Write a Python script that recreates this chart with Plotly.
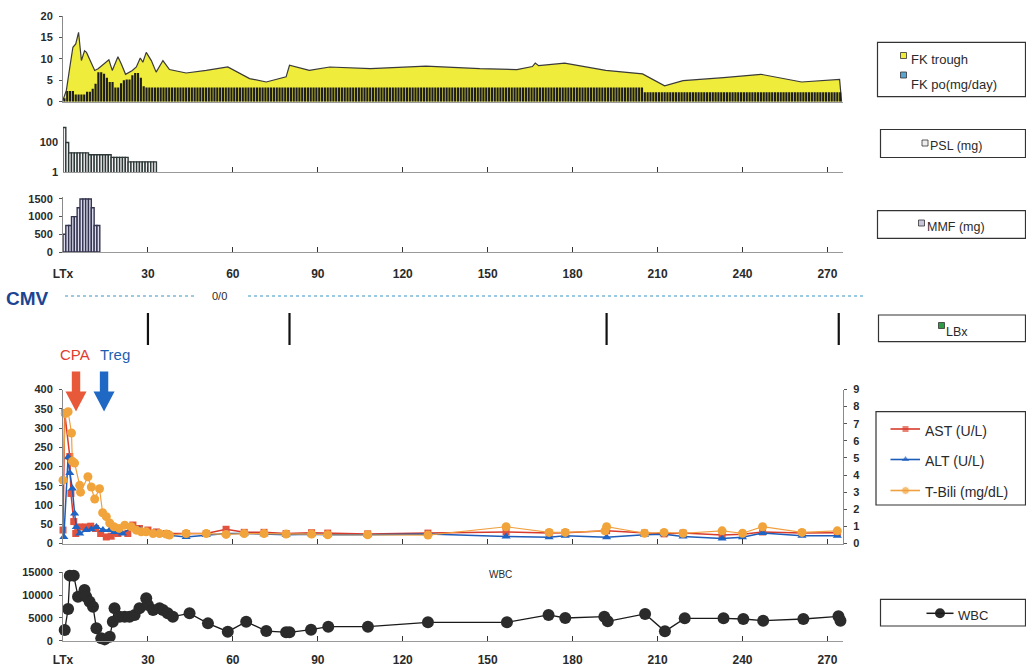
import plotly.graph_objects as go

W, H = 1026, 668
def px(x): return x / W
def py(y): return 1 - y / H

# ---------------- DATA ----------------
day_ticks = [0, 30, 60, 90, 120, 150, 180, 210, 240, 270]
day_tick_labels = ["LTx", "30", "60", "90", "120", "150", "180", "210", "240", "270"]

# FK trough (ng/mL)
fk_trough_days = [0, 1.2, 2.4, 3.5, 4.5, 5.5, 6.5, 7.6, 8.3, 9.4, 11.2, 12.4, 14, 16.2, 17.4, 19.4,
                  20.6, 22.1, 24.5, 25.9, 27.3, 28.2, 29.4, 31.2, 32.9, 35.3, 37.6, 43.5, 50.6, 58.2,
                  65.9, 71.8, 78.8, 80, 87, 94.2, 108.6, 128.2, 147.2, 160.3, 165.8, 166.8, 168,
                  177.2, 191.7, 204.7, 212.5, 219, 233.3, 246.5, 260.9, 274.3, 275]
fk_trough = [0.4, 2.7, 8, 12.7, 13.5, 16.2, 9.6, 11.9, 11.5, 10, 7.3, 7.7, 8.5, 9.8, 7.3, 10.5,
             8.8, 6.4, 7.3, 8.1, 10.2, 9.2, 11.5, 9.6, 6.9, 9.6, 7.5, 6.7, 7.3, 8.1,
             5.4, 4.6, 5.8, 8.5, 7.3, 8.1, 7.7, 8.3, 7.7, 7.5, 8.2, 9.0, 8.4,
             9.0, 7.3, 6.5, 3.7, 4.9, 5.6, 6.4, 4.6, 5.2, 0]

# FK po (mg/day): daily doses for the first 30 days, then constant-dose periods (start, end, dose)
fk_po_first_days = [0.8, 2.5, 2.5, 2.5, 1.7, 1.7, 1.7, 1.7, 2.3, 2.3, 3.0, 4.2, 6.9, 6.9, 6.5,
                    5.6, 4.6, 4.6, 3.3, 3.3, 4.3, 5.0, 5.2, 5.2, 6.2, 6.7, 6.7, 5.6, 3.6, 3.3]
fk_po_periods = [(30, 204, 3.3), (205, 274, 2.2)]

# PSL (mg), day 0..32
psl_days = list(range(0, 33))
psl = [1000, 100, 20, 20, 20, 20, 20, 20, 20, 15, 15, 15, 15, 15, 15, 15, 15,
       10, 10, 10, 10, 10, 10, 5, 5, 5, 5, 5, 5, 5, 5, 5, 5]

# MMF (mg), day 0..12
mmf_days = list(range(0, 13))
mmf = [500, 750, 750, 1000, 1000, 1250, 1500, 1500, 1500, 1500, 1250, 750, 750]

# Liver biopsy days
lbx_days = [30, 80, 192, 274]

# AST (U/L)
ast_days = [0, 0.6, 2.4, 2.8, 3.8, 4.5, 5.9, 8, 9.8, 11.5, 13.3, 15.3, 17, 19.4, 22.9,
            24.7, 27, 30, 33, 36.5, 43.5, 50.6, 57.6, 64, 71, 78.8, 87.8, 93.5, 107.6, 128.9,
            156.5, 171.7, 177.4, 192, 205.4, 212.3, 219, 232.8, 240, 247.1, 261, 273.5]
ast = [35, 340, 226, 130, 57, 26, 43, 43, 45, 39, 26, 17, 19, 26, 26,
       48, 39, 35, 30, 26, 26, 26, 37, 29, 29, 26, 28, 27, 25, 27,
       30, 27, 28, 33, 27, 25, 27, 22, 24, 30, 27, 28]

# ALT (U/L)
alt_days = [0.3, 1.8, 2.4, 3.3, 4.1, 4.7, 5.9, 8.2, 10, 11.8, 14.1, 16.5, 18.2, 21, 24.7,
            27, 30, 33, 36.5, 43.5, 50.6, 57.6, 64, 71, 78.8, 87.8, 93.5, 107.6, 128.9, 156.5,
            171.7, 177.4, 192, 205.4, 212.3, 219, 232.8, 240, 247.1, 261, 273.5]
alt = [17, 224, 183, 143, 78, 43, 26, 35, 37, 43, 35, 35, 30, 26, 43,
       37, 30, 26, 22, 17, 22, 26, 26, 24, 23, 24, 23, 23, 25, 18,
       16, 20, 16, 23, 24, 18, 13, 16, 27, 20, 20]

# T-Bili (mg/dL)
bili_days = [0, 0.8, 1.8, 3, 3.3, 4.1, 5.9, 6.2, 8.8, 10, 11.2, 12.9, 14, 15.3, 16.5,
             18, 19.8, 21.8, 24.1, 25.9, 27.6, 29.4, 31.8, 34.1, 36.5, 37.6, 43.5, 50.6, 57.6, 64,
             71, 78.8, 87.8, 93.5, 107.6, 128.9, 156.5, 171.7, 177.4, 191.4, 192, 205.4, 212.3, 219,
             232.8, 240, 247.1, 261, 273.5]
bili = [3.7, 7.6, 7.7, 6.46, 4.8, 4.7, 3.4, 3.0, 3.9, 3.3, 2.6, 3.2, 1.8, 1.57, 1.2,
        0.98, 0.88, 1.07, 0.98, 0.78, 0.68, 0.68, 0.58, 0.58, 0.55, 0.49, 0.58, 0.58, 0.53, 0.58,
        0.58, 0.55, 0.55, 0.51, 0.51, 0.49, 0.98, 0.65, 0.65, 0.74, 0.98, 0.6, 0.65, 0.6,
        0.74, 0.6, 0.98, 0.65, 0.74]

# WBC (/uL)
wbc_days = [0.6, 1.8, 2.4, 3.8, 5.3, 7.6, 8.2, 9.4, 10.6, 11.8, 13.5, 14.7, 16.5, 17.6, 18.2,
            20, 21.8, 23.5, 25.3, 27, 29.4, 30, 31.8, 34.1, 35.3, 37, 38.8, 44.7, 51.2, 58.2,
            64.7, 71.8, 78.8, 80, 87.6, 93.7, 107.7, 128.9, 156.8, 171.5, 177.4, 191.2, 192.4,
            205.6, 212.6, 219.6, 233.3, 240.3, 247.3, 261.5, 273.9, 274.6]
wbc = [2340, 6950, 14270, 14270, 9660, 11130, 9660, 8560, 7470, 2710, 510, 290, 880, 4170, 7100,
       5270, 5270, 5270, 5640, 7100, 9300, 7830, 6730, 7100, 6730, 6000, 5270, 6000, 3800, 1980,
       4170, 2120, 1830, 1830, 2420, 3070, 3070, 4030, 4030, 5640, 4980, 5270, 4250,
       5860, 2050, 4900, 4900, 4760, 4390, 4760, 5340, 4390]

cpa_day = 4.6
treg_day = 14.5

# expand FK po dose periods into daily bars
fk_po_days = list(range(len(fk_po_first_days)))
fk_po = list(fk_po_first_days)
for start, end, dose in fk_po_periods:
    for d in range(start, end + 1):
        fk_po_days.append(d)
        fk_po.append(dose)

# ---------------- LAYOUT HELPERS ----------------
X0, X1 = 63, 843
XRANGE = [0, 275.5]
FONT = "Liberation Sans, Arial, sans-serif"
TXT = "#2a2a2a"

fig = go.Figure()

# FK panel: trough area on y, dose bars on an overlaying axis so they sit on top
fig.add_trace(go.Scatter(x=fk_trough_days, y=fk_trough, mode="lines", fill="tozeroy",
                         fillcolor="#efec3c", line=dict(color="#3a3a3a", width=1.2),
                         xaxis="x", yaxis="y", hoverinfo="skip", showlegend=False))
fig.add_trace(go.Bar(x=fk_po_days, y=fk_po, width=0.76, offset=0.12,
                     marker=dict(color="#1e1e1e", line=dict(width=0)),
                     xaxis="x", yaxis="y8", showlegend=False))
# PSL panel
fig.add_trace(go.Bar(x=psl_days, y=psl, width=1, offset=0,
                     marker=dict(color="#f2f2f2", line=dict(color="#2f3838", width=1.4)),
                     xaxis="x2", yaxis="y2", showlegend=False))
# MMF panel
fig.add_trace(go.Bar(x=mmf_days, y=mmf, width=1, offset=0,
                     marker=dict(color="#dcdcee", line=dict(color="#35354f", width=1.4)),
                     xaxis="x3", yaxis="y3", showlegend=False))
# Liver panel
fig.add_trace(go.Scatter(x=ast_days, y=ast, mode="lines+markers", name="AST (U/L)",
                         line=dict(color="#d83a2c", width=1.5),
                         marker=dict(symbol="square", size=7, color="#e2523c"),
                         xaxis="x4", yaxis="y4", cliponaxis=False, showlegend=False))
fig.add_trace(go.Scatter(x=alt_days, y=alt, mode="lines+markers", name="ALT (U/L)",
                         line=dict(color="#1d5cb8", width=1.5),
                         marker=dict(symbol="triangle-up", size=8, color="#1e64c4"),
                         xaxis="x4", yaxis="y4", cliponaxis=False, showlegend=False))
fig.add_trace(go.Scatter(x=bili_days, y=bili, mode="lines+markers", name="T-Bili (mg/dL)",
                         line=dict(color="#f0a040", width=1.2),
                         marker=dict(symbol="circle", size=9, color="#f2a43c"),
                         xaxis="x4", yaxis="y5", cliponaxis=False, showlegend=False))
# WBC panel
fig.add_trace(go.Scatter(x=wbc_days, y=wbc, mode="lines+markers", name="WBC",
                         line=dict(color="#1a1a1a", width=1.3),
                         marker=dict(symbol="circle", size=12, color="#2b2b2b"),
                         xaxis="x5", yaxis="y6", cliponaxis=False, showlegend=False))

ytick = dict(size=11, color=TXT, family=FONT, weight="bold")
xtick = dict(size=12, color=TXT, family=FONT, weight="bold")

def xax(anchor, labels=False, ticks=True, standoff=12):
    return dict(domain=[px(X0), px(X1)], range=XRANGE, anchor=anchor, showgrid=False, zeroline=False,
                showline=True, linecolor="#9a9a9a", linewidth=1, automargin=False,
                tickvals=day_ticks, ticktext=day_tick_labels, showticklabels=labels,
                ticks="inside" if ticks else "", ticklen=5, tickcolor="#333", tickwidth=1,
                tickfont=xtick, ticklabelstandoff=standoff)

def yax(anchor, ytop, ybot, **kw):
    d = dict(domain=[py(ybot), py(ytop)], anchor=anchor, showgrid=False, zeroline=False,
             showline=True, linecolor="#8a8a8a", linewidth=1, ticks="outside", ticklen=3,
             tickcolor="#555", tickfont=ytick, ticklabelstandoff=4, automargin=False)
    d.update(kw)
    return d

fig.update_layout(
    width=W, height=H, margin=dict(l=0, r=0, t=0, b=0, autoexpand=False),
    paper_bgcolor="white", plot_bgcolor="rgba(0,0,0,0)",
    barmode="overlay", showlegend=False,
    xaxis=xax("y", labels=False, ticks=False),
    yaxis=yax("x", 16, 101.7, range=[0, 20], tickvals=[0, 5, 10, 15, 20]),
    yaxis8=dict(domain=[py(101.7), py(16)], range=[0, 20], overlaying="y", anchor="x",
                visible=False, showgrid=False, zeroline=False, automargin=False),
    xaxis2=xax("y2"),
    yaxis2=yax("x2", 125.3, 172.3, type="log", range=[0, 3.15], tickvals=[1, 100], ticktext=["1", "100"],
               showline=False, ticks=""),
    xaxis3=xax("y3", labels=True, standoff=11),
    yaxis3=yax("x3", 197, 252, range=[0, 1555], tickvals=[0, 500, 1000, 1500]),
    xaxis4=xax("y4"),
    yaxis4=yax("x4", 389.5, 543.5, range=[0, 400], tickvals=list(range(0, 401, 50))),
    yaxis5=yax("x4", 389.5, 543.5, range=[0, 9], tickvals=list(range(0, 10)), overlaying="y4",
               side="right"),
    xaxis5=xax("y6", labels=True, standoff=8),
    yaxis6=yax("x5", 572.3, 640.7, range=[0, 15000], tickvals=[0, 5000, 10000, 15000],
               ticktext=["0", "5000", "10000", "15000"]),
)

shapes = []
annotations = []

def note(text, x, y, size, color=TXT, xanchor="center"):
    annotations.append(dict(text=text, x=px(x), y=py(y), xref="paper", yref="paper",
                            xanchor=xanchor, yanchor="middle", showarrow=False,
                            font=dict(size=size, color=color, family=FONT)))

# LBx vertical markers (data x)
for d in lbx_days:
    shapes.append(dict(type="line", xref="x", yref="paper", x0=d, x1=d, y0=py(345), y1=py(313),
                       line=dict(color="#111", width=2.2)))

# CMV row
shapes.append(dict(type="line", xref="paper", yref="paper", x0=px(65), x1=px(196), y0=py(296), y1=py(296),
                   line=dict(color="#7db9d6", width=1.5, dash="dot")))
shapes.append(dict(type="line", xref="paper", yref="paper", x0=px(248), x1=px(866), y0=py(296), y1=py(296),
                   line=dict(color="#7db9d6", width=1.5, dash="dot")))
note("<b>CMV</b>", 27, 298.5, 19, "#1b4592")
note("0/0", 219, 296.5, 11)

# CPA / Treg arrows (block arrows, positioned on the day axis)
def xpix(day):
    return X0 + (day - XRANGE[0]) / (XRANGE[1] - XRANGE[0]) * (X1 - X0)

def block_arrow(cx, color):
    top, neck, tip = 371.5, 391.5, 411.5
    sw, hw = 4.2, 10.5
    pts = [(cx - sw, top), (cx + sw, top), (cx + sw, neck), (cx + hw, neck), (cx, tip),
           (cx - hw, neck), (cx - sw, neck)]
    path = "M " + " L ".join(f"{px(a):.5f},{py(b):.5f}" for a, b in pts) + " Z"
    return dict(type="path", xref="paper", yref="paper", path=path, fillcolor=color,
                line=dict(width=0))

shapes.append(block_arrow(xpix(cpa_day), "#e8593a"))
shapes.append(block_arrow(xpix(treg_day), "#1f68c4"))
note("CPA", 75, 354, 15, "#e03c2e")
note("Treg", 115, 354, 15, "#1f5fb0")

# WBC small title
note("WBC", 500, 574, 10)

# ---- legend boxes ----
def box(x0, y0, y1):
    shapes.append(dict(type="rect", xref="paper", yref="paper", x0=px(x0), x1=px(1025.5),
                       y0=py(y1), y1=py(y0), line=dict(color="#333", width=1.2),
                       fillcolor="rgba(0,0,0,0)"))

def sq(x, y, color, s=6):
    shapes.append(dict(type="rect", xref="paper", yref="paper", x0=px(x), x1=px(x + s),
                       y0=py(y + s), y1=py(y), line=dict(color="#333", width=0.8), fillcolor=color))

def label(text, x, y, size=13):
    note(text, x, y, size, TXT, "left")

box(877.5, 42.3, 96.7)
sq(900.5, 52.5, "#efec3c")
label("FK trough", 908.5, 59.5)
sq(900.5, 72, "#5aa6d0")
label("FK po(mg/day)", 908.5, 85)

box(880.5, 129.5, 157.5)
sq(922, 140, "#eeeeee")
label("PSL (mg)", 928, 146, 12.5)

box(877.5, 210.7, 238.3)
sq(918.5, 220, "#c8c4dc")
label("MMF (mg)", 924.5, 226.7, 12.5)

box(878.5, 315, 341.7)
sq(938.5, 322.5, "#2e9a44")
label("LBx", 944, 331.5, 12.5)

box(876, 411.7, 505)
leg_items = [("AST (U/L)", 430, "#d83a2c"),
             ("ALT (U/L)", 460.5, "#1d5cb8"),
             ("T-Bili (mg/dL)", 491.5, "#f0a040")]
for name, yy, col in leg_items:
    shapes.append(dict(type="line", xref="paper", yref="paper", x0=px(890.5), x1=px(920),
                       y0=py(yy - 1), y1=py(yy - 1), line=dict(color=col, width=1.6)))
    label(name, 922.5, yy + 0.5, 14)
leg_x = [905.5, 905.5, 905.5]
leg_y = [429, 459.5, 490.5]
fig.add_trace(go.Scatter(x=[px(v) for v in leg_x], y=[py(v) for v in leg_y], mode="markers",
                         marker=dict(symbol=["square", "triangle-up", "circle"], size=[7, 8, 8],
                                     color=["#e2523c", "#1e64c4", "#f2a43c"]),
                         xaxis="x6", yaxis="y7", hoverinfo="skip", showlegend=False))

box(880.5, 599.3, 626)
shapes.append(dict(type="line", xref="paper", yref="paper", x0=px(926.5), x1=px(953.5),
                   y0=py(613.3), y1=py(613.3), line=dict(color="#1a1a1a", width=1.5)))
fig.add_trace(go.Scatter(x=[px(940)], y=[py(613.3)], mode="markers",
                         marker=dict(symbol="circle", size=10, color="#2b2b2b"),
                         xaxis="x6", yaxis="y7", hoverinfo="skip", showlegend=False))
label("WBC", 956, 615, 13)

fig.update_layout(
    xaxis6=dict(domain=[0, 1], range=[0, 1], visible=False, anchor="y7", fixedrange=True,
                automargin=False),
    yaxis7=dict(domain=[0, 1], range=[0, 1], visible=False, anchor="x6", fixedrange=True,
                automargin=False),
    shapes=shapes, annotations=annotations,
)

fig.write_html("out.html")
